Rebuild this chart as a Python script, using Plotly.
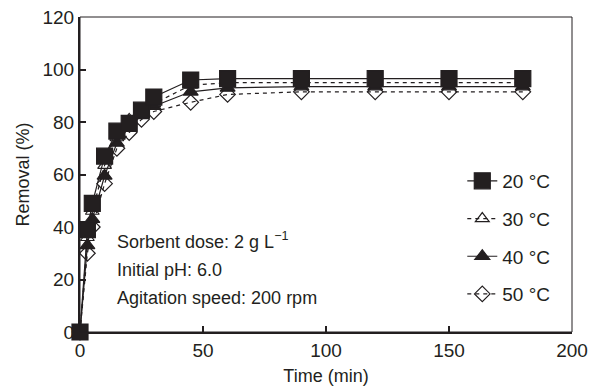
import plotly.graph_objects as go

time_min = [0, 3, 5, 10, 15, 20, 25, 30, 45, 60, 90, 120, 150, 180]
removal_20 = [0, 39, 49, 67, 76.5, 79.5, 84.5, 89.5, 96, 96.5, 96.5, 96.5, 96.5, 96.5]
removal_30 = [0, 36, 46, 63.5, 74, 81, 83.5, 87, 94, 95, 95, 95, 95, 95]
removal_40 = [0, 33, 43, 59.5, 72, 78, 82.5, 86, 91.5, 93, 93.5, 93.5, 93.5, 93.5]
removal_50 = [0, 30, 40, 56.5, 70, 76, 81, 84, 87.5, 90.5, 91.5, 91.5, 91.5, 91.5]
series_names = ["20 °C", "30 °C", "40 °C", "50 °C"]
x_ticks = [0, 50, 100, 150, 200]
y_ticks = [0, 20, 40, 60, 80, 100, 120]
notes = ["Sorbent dose: 2 g L<sup>−1</sup>", "Initial pH: 6.0", "Agitation speed: 200 rpm"]

INK = "#231f20"
FONT = "Liberation Sans, Arial, sans-serif"

styles = [
    dict(dash="solid", symbol="square", size=16, fill=INK),
    dict(dash="4px,4px", symbol="triangle-up-open", size=12, fill=INK),
    dict(dash="solid", symbol="triangle-up", size=13, fill=INK),
    dict(dash="4px,4px", symbol="diamond-open", size=12, fill=INK),
]
data = [removal_20, removal_30, removal_40, removal_50]

fig = go.Figure()
for i in reversed(range(4)):
    st = styles[i]
    fig.add_trace(go.Scatter(
        x=time_min, y=data[i], name=series_names[i],
        mode="lines+markers",
        line=dict(color=INK, width=1.2, dash=st["dash"]),
        marker=dict(symbol=st["symbol"], size=st["size"], color=st["fill"],
                    line=dict(color=INK, width=1.2)),
        cliponaxis=False,
        legendrank=i + 1,
        legendgroup=f"g{i}",
    ))

note_y = [0.289, 0.197, 0.108]
for txt, yy in zip(notes, note_y):
    fig.add_annotation(
        xref="paper", yref="paper", x=0.072, y=yy, xanchor="left", yanchor="middle",
        align="left", showarrow=False, text=txt,
        font=dict(family=FONT, size=18, color=INK),
    )

fig.add_shape(type="rect", xref="paper", yref="paper", x0=0, y0=0, x1=1, y1=1,
              line=dict(color=INK, width=1), layer="above")

fig.update_layout(
    width=591, height=390,
    margin=dict(l=80, r=19, t=17, b=58),
    paper_bgcolor="white", plot_bgcolor="white",
    font=dict(family=FONT, size=19, color=INK),
    showlegend=True,
    legend=dict(
        x=0.777, y=0.30, xanchor="left", yanchor="middle",
        bgcolor="rgba(0,0,0,0)", borderwidth=0,
        font=dict(family=FONT, size=19, color=INK),
        traceorder="grouped", tracegroupgap=10,
    ),
    xaxis=dict(
        range=[0, 200], tickvals=x_ticks, ticks="inside", ticklen=6, tickwidth=1.5,
        tickcolor=INK, showline=True, linecolor=INK, linewidth=2, showgrid=False,
        zeroline=False, automargin=False,
        tickfont=dict(family=FONT, size=19, color=INK),
        title=dict(text="Time (min)", font=dict(family=FONT, size=18, color=INK), standoff=10),
    ),
    yaxis=dict(
        range=[0, 120], tickvals=y_ticks, ticks="inside", ticklen=6, tickwidth=1.5,
        tickcolor=INK, showline=True, linecolor=INK, linewidth=2, showgrid=False,
        zeroline=False, automargin=False,
        tickfont=dict(family=FONT, size=19, color=INK),
        title=dict(text="Removal (%)", font=dict(family=FONT, size=18, color=INK), standoff=8),
    ),
)

fig.write_html("out.html", config={"displayModeBar": False},
               post_script="document.body.style.margin='0';")
